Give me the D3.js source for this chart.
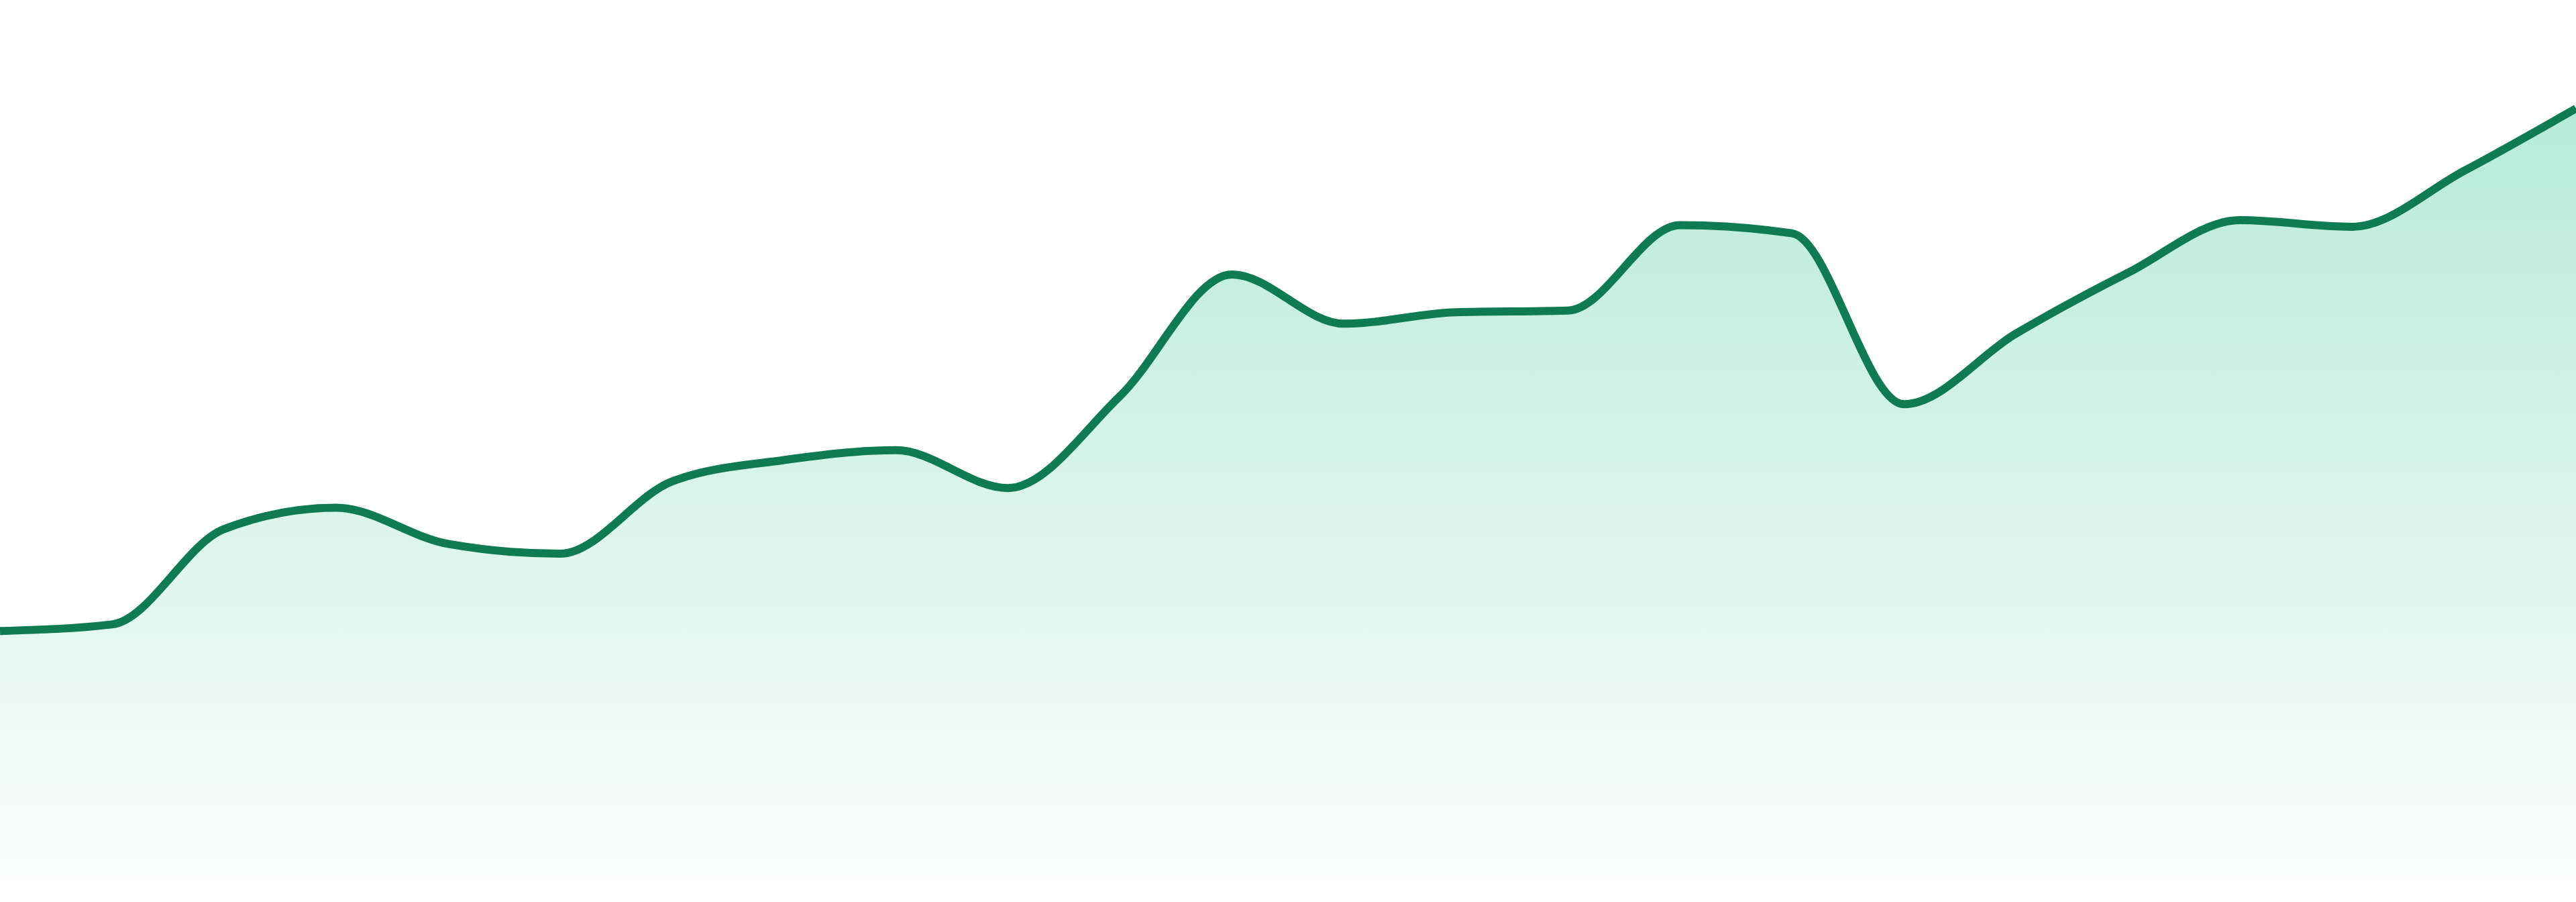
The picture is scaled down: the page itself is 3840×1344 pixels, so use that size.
<!DOCTYPE html>
<html>
<head>
<meta charset="utf-8">
<script src="https://cdn.jsdelivr.net/npm/d3@7"></script>
<style>
  html, body { margin: 0; padding: 0; background: #ffffff; }
  svg { display: block; }
</style>
</head>
<body>
<div id="chart"></div>
<script>
// values, one per step
const steps = d3.range(24);
const values = [
  14.9, 15.3, 21.1, 22.4, 20.2, 19.6, 24.0, 25.3, 25.9, 23.6, 29.2, 36.6,
  33.6, 34.3, 34.4, 39.6, 39.1, 28.7, 33.0, 36.7, 39.9, 39.5, 42.9, 46.7
];

const w = 3840;
const h = 1344;
const bottom = 1305;

const svg = d3.select("#chart").append("svg").attr("width", w).attr("height", h);

const xScale = d3.scaleLinear().domain([0, steps.length - 1]).range([0, w]);
const yScale = d3.scaleLinear().domain([0, 53.3]).range([bottom, 0]);

const data = steps.map((s) => ({ step: s, value: values[s] }));

const defs = svg.append("defs");
const grad = defs
  .append("linearGradient")
  .attr("id", "fill-grad")
  .attr("x1", 0)
  .attr("y1", 0)
  .attr("x2", 0)
  .attr("y2", 1);
grad.append("stop").attr("offset", "0%").attr("stop-color", "#10b981").attr("stop-opacity", 0.3);
grad.append("stop").attr("offset", "100%").attr("stop-color", "#10b981").attr("stop-opacity", 0.02);

const area = d3
  .area()
  .x((d) => xScale(d.step))
  .y0(bottom)
  .y1((d) => yScale(d.value))
  .curve(d3.curveMonotoneX);

const line = d3
  .line()
  .x((d) => xScale(d.step))
  .y((d) => yScale(d.value))
  .curve(d3.curveMonotoneX);

svg.append("path").datum(data).attr("d", area).attr("fill", "url(#fill-grad)");

svg
  .append("path")
  .datum(data)
  .attr("d", line)
  .attr("fill", "none")
  .attr("stroke", "#0f7b52")
  .attr("stroke-width", 12)
  .attr("stroke-linejoin", "round");
</script>
</body>
</html>
